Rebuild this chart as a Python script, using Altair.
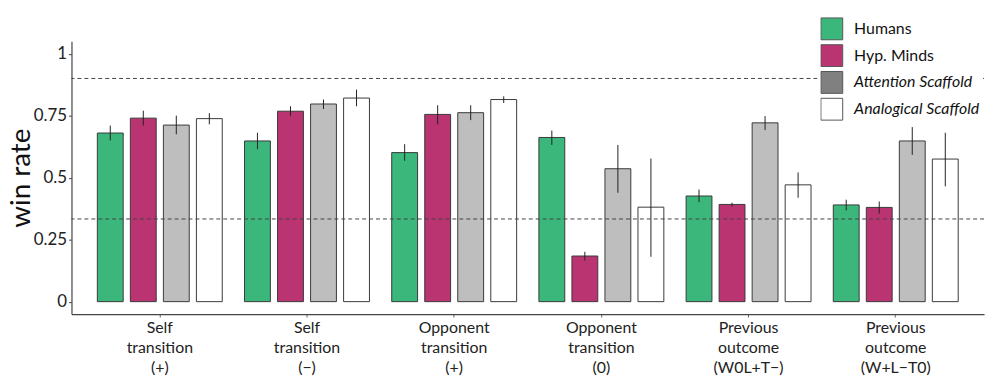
import altair as alt
import pandas as pd

categories = [
    "Self\ntransition\n(+)",
    "Self\ntransition\n(−)",
    "Opponent\ntransition\n(+)",
    "Opponent\ntransition\n(0)",
    "Previous\noutcome\n(W0L+T−)",
    "Previous\noutcome\n(W+L−T0)",
]
models = ["Humans", "Hyp. Minds", "Attention Scaffold", "Analogical Scaffold"]

win_rate = {
    "Humans":              [0.680, 0.648, 0.601, 0.662, 0.426, 0.390],
    "Hyp. Minds":          [0.740, 0.768, 0.755, 0.184, 0.392, 0.380],
    "Attention Scaffold":  [0.712, 0.797, 0.762, 0.536, 0.721, 0.648],
    "Analogical Scaffold": [0.738, 0.821, 0.815, 0.381, 0.471, 0.575],
}
err_low = {
    "Humans":              [0.650, 0.615, 0.568, 0.632, 0.401, 0.368],
    "Hyp. Minds":          [0.710, 0.748, 0.715, 0.165, 0.384, 0.355],
    "Attention Scaffold":  [0.675, 0.777, 0.732, 0.439, 0.692, 0.592],
    "Analogical Scaffold": [0.715, 0.788, 0.801, 0.181, 0.419, 0.465],
}
err_high = {
    "Humans":              [0.710, 0.681, 0.635, 0.690, 0.452, 0.411],
    "Hyp. Minds":          [0.770, 0.788, 0.792, 0.201, 0.399, 0.404],
    "Attention Scaffold":  [0.750, 0.815, 0.792, 0.632, 0.748, 0.704],
    "Analogical Scaffold": [0.760, 0.855, 0.828, 0.577, 0.521, 0.681],
}
ref_lines = [1 / 3, 0.9]

bar_colors = ["#3BB77C", "#B93471", "#BEBEBE", "#FFFFFF"]
legend_colors = ["#3BB77C", "#B93471", "#808080", "#FFFFFF"]

rows = []
for m in models:
    for i, c in enumerate(categories):
        rows.append({"category": c, "model": m,
                     "win": win_rate[m][i],
                     "lo": err_low[m][i], "hi": err_high[m][i]})
df = pd.DataFrame(rows)
ref_df = pd.DataFrame({"level": ref_lines})

FONT = "Lato"

x_enc = alt.X(
    "category:N", sort=categories,
    scale=alt.Scale(paddingInner=0, paddingOuter=0.1),
    axis=alt.Axis(title=None, labelExpr="split(datum.label, '\\n')",
                  labelAngle=0, labelFontSize=16, labelLineHeight=20,
                  labelColor="#222", labelPadding=3, tickSize=3,
                  tickColor="#666", domainColor="#444", labelFont=FONT,
                  labelBaseline="top"),
)
xo_enc = alt.XOffset("model:N", sort=models,
                     scale=alt.Scale(paddingInner=0.217, paddingOuter=0.337))
y_scale = alt.Scale(domain=[-0.05, 1.05], nice=False, zero=False)

bars = alt.Chart(df).mark_bar(stroke="#3a3a3a", strokeWidth=1).encode(
    x=x_enc,
    xOffset=xo_enc,
    y=alt.Y("win:Q", scale=y_scale,
            axis=alt.Axis(title="win rate", values=[0, 0.25, 0.5, 0.75, 1],
                          format=".2~f", grid=False, labelFontSize=17,
                          labelColor="#222", labelFont=FONT, tickSize=3,
                          tickColor="#444", labelPadding=2, domainColor="#444",
                          titleFontSize=28, titleFont=FONT,
                          titleFontWeight="normal", titleColor="#111",
                          titlePadding=-2)),
    y2=alt.datum(0),
    color=alt.Color("model:N", sort=models,
                    scale=alt.Scale(domain=models, range=bar_colors),
                    legend=None),
)

errs = alt.Chart(df).mark_rule(color="#222", strokeWidth=1).encode(
    x=alt.X("category:N", sort=categories),
    xOffset=alt.XOffset("model:N", sort=models),
    y=alt.Y("lo:Q"),
    y2="hi:Q",
)


def legend_part(names, colors, style, ly, fill):
    sub = df[df["model"].isin(names)].copy()
    sub["lm_" + style] = sub["model"]
    return alt.Chart(sub).mark_square(opacity=0, size=1).encode(
        x=alt.X("category:N", sort=categories),
        xOffset=alt.XOffset("model:N", sort=models),
        y=alt.Y("win:Q"),
        fill=alt.Fill("lm_" + style + ":N", sort=names,
                      scale=alt.Scale(domain=names, range=colors),
                      legend=alt.Legend(
                          title=None, orient="none", legendX=752, legendY=ly,
                          symbolType="square", symbolSize=484,
                          symbolOpacity=1, symbolStrokeColor="#555",
                          symbolStrokeWidth=1, rowPadding=2, clipHeight=25,
                          labelOffset=11,
                          labelFontSize=16, labelFont=FONT, labelColor="#111",
                          labelFontStyle=style,
                          fillColor=fill, padding=3, labelLimit=300)),
    )


leg_a = legend_part(models[:2], legend_colors[:2], "normal", -28, "transparent")
leg_b = legend_part(models[2:], legend_colors[2:], "italic", 26, "white")

refs = alt.Chart(ref_df).mark_rule(color="#444", strokeWidth=1,
                                    strokeDash=[4, 3]).encode(
    y=alt.Y("level:Q"),
)

chart = alt.layer(bars, leg_a, leg_b, errs, refs).resolve_scale(
    fill="independent"
).properties(
    width=920, height=275,
    autosize=alt.AutoSizeParams(type="none"),
    padding={"left": 64, "top": 32, "right": 8, "bottom": 70},
).configure_view(stroke=None).configure_axisX(domainWidth=1.2).configure_axisY(domainWidth=1.2)

chart.save("out.html", embed_options={"renderer": "svg", "actions": False})
